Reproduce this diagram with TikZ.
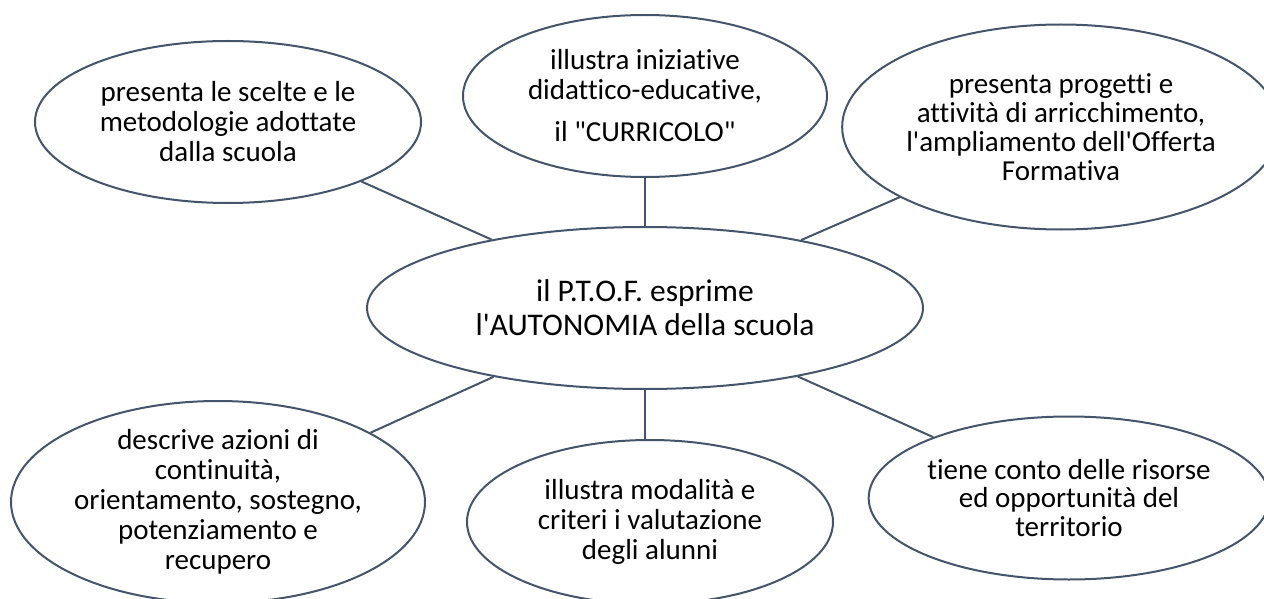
\documentclass[tikz,border=0pt]{standalone}
\usepackage{fontspec}
\newfontfamily\bubblefont{Carlito}[Ligatures=NoCommon]
\usepackage{xcolor}
\definecolor{slate}{HTML}{44546A}
\usepackage{tikz}
\usetikzlibrary{shapes.geometric}

\begin{document}
\begin{tikzpicture}[
    x=1pt, y=-1pt,
    every text node part/.style={align=center},
    bubble/.style={ellipse, draw=slate, line width=2pt, fill=white, inner sep=0pt,
        font=\bubblefont\fontsize{29}{30}\selectfont},
    hub/.style={bubble, font=\bubblefont\fontsize{31.5}{34}\selectfont},
    link/.style={draw=slate, line width=2pt}
]
\useasboundingbox (0,0) rectangle (1264,599);

% ==================== CENTRE ====================
\node[hub, minimum width=556pt, minimum height=162pt] (ptof) at (645,308) {
    il P.T.O.F. esprime\\
    l'AUTONOMIA della scuola
};

% ==================== TOP ROW ====================
\node[bubble, minimum width=386pt, minimum height=162pt] (scelte) at (228,122) {
    presenta le scelte e le\\
    metodologie adottate\\
    dalla scuola
};

\node[bubble, minimum width=364pt, minimum height=162pt] (curricolo) at (645,96) {
    illustra iniziative\\
    didattico-educative,\\[12pt]
    il "CURRICOLO"
};

\node[bubble, minimum width=404pt, minimum height=205pt,
    font=\bubblefont\fontsize{29}{29}\selectfont] (progetti) at (1061,127) {
    presenta progetti e\\
    attività di arricchimento,\\
    l'ampliamento dell'Offerta\\
    Formativa
};

% ==================== BOTTOM ROW ====================
\node[bubble, minimum width=414pt, minimum height=202pt, inner ysep=-4pt] (continuita) at (218,502) {
    descrive azioni di\\
    continuità,\\
    orientamento, sostegno,\\
    potenziamento e\\
    recupero
};

\node[bubble, minimum width=366pt, minimum height=164pt] (valutazione) at (650,522) {
    illustra modalità e\\
    criteri i valutazione\\
    degli alunni
};

\node[bubble, minimum width=390pt, minimum height=163pt,
    font=\bubblefont\fontsize{29}{28.5}\selectfont] (territorio) at (1069,498) {
    tiene conto delle risorse\\
    ed opportunità del\\
    territorio
};

% ==================== LINKS ====================
\draw[link] (ptof) -- (scelte);
\draw[link] (ptof) -- (curricolo);
\draw[link] (ptof) -- (progetti);
\draw[link] (ptof) -- (continuita);
\draw[link] (ptof.south) -- (ptof.south |- valutazione.north);
\draw[link] (ptof) -- (territorio);

\end{tikzpicture}
\end{document}
